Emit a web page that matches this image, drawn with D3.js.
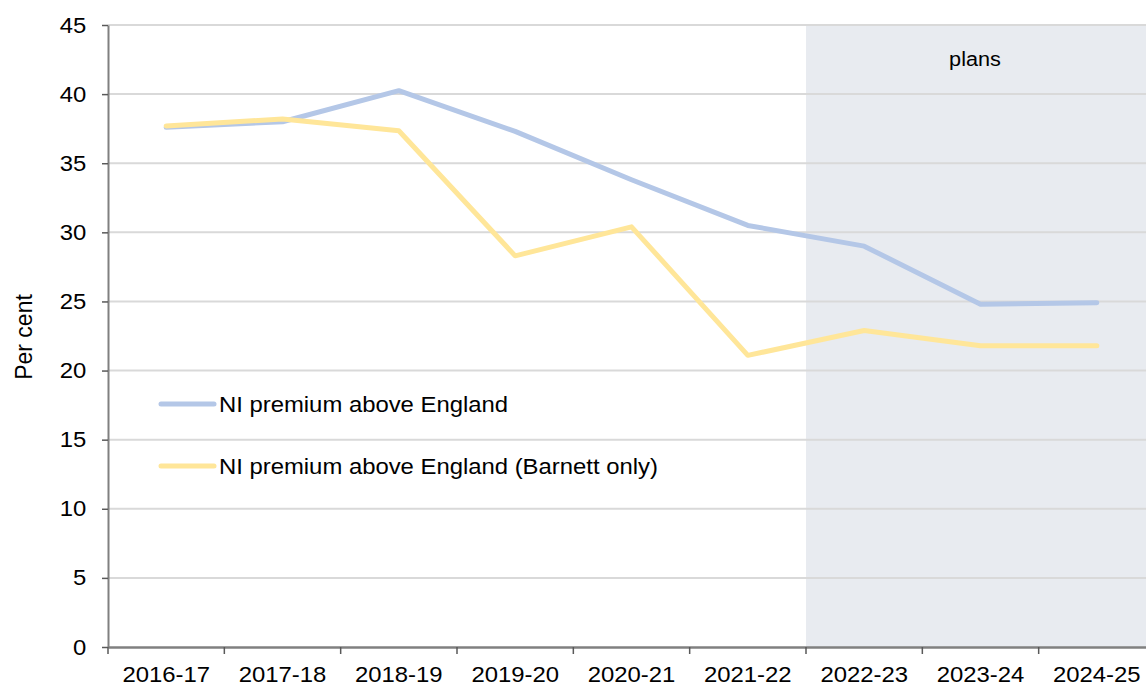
<!DOCTYPE html>
<html>
<head>
<meta charset="utf-8">
<script src="https://cdn.jsdelivr.net/npm/d3@7"></script>
<style>
  html, body { margin: 0; padding: 0; background: #fff; overflow: hidden; }
  svg { display: block; font-family: "Liberation Sans", Arial, sans-serif; }
</style>
</head>
<body>
<svg id="chart" width="1146" height="686"></svg>
<script>
// Financial years on the category axis
const years = ["2016-17", "2017-18", "2018-19", "2019-20", "2020-21",
               "2021-22", "2022-23", "2023-24", "2024-25"];

// Northern Ireland spending premium over England, per cent
const premiumTotal   = [37.6, 38.0, 40.25, 37.3, 33.8, 30.5, 29.0, 24.8, 24.9];
const premiumBarnett = [37.7, 38.2, 37.35, 28.3, 30.4, 21.1, 22.9, 21.8, 21.8];

const seriesNames = ["NI premium above England",
                     "NI premium above England (Barnett only)"];
const seriesColors = ["#b4c7e7", "#ffe699"];

const yTicks = [0, 5, 10, 15, 20, 25, 30, 35, 40, 45];
const plansFrom = "2022-23";

const svg = d3.select("#chart");
const plotLeft = 108, plotRight = 1155, plotTop = 25, plotBottom = 647;

const x = d3.scaleBand().domain(years).range([plotLeft, plotRight]).padding(0);
const y = d3.scaleLinear().domain([0, 45]).range([plotBottom, plotTop]);
const cx = d => x(d) + x.bandwidth() / 2;

const fontSize = 22;
const textScale = 1.085;

// Shaded "plans" period
svg.append("rect")
  .attr("x", x(plansFrom))
  .attr("y", y(45))
  .attr("width", plotRight - x(plansFrom))
  .attr("height", y(0) - y(45))
  .attr("fill", "#e8ebf0");

// Horizontal gridlines
svg.append("g")
  .selectAll("line")
  .data(yTicks.filter(v => v > 0))
  .join("line")
  .attr("x1", plotLeft).attr("x2", plotRight)
  .attr("y1", d => y(d)).attr("y2", d => y(d))
  .attr("stroke", "#d9d9d9")
  .attr("stroke-width", 2);

svg.append("text")
  .attr("transform", `translate(975,66) scale(${textScale},1)`)
  .attr("text-anchor", "middle")
  .attr("font-size", 20)
  .attr("fill", "#000")
  .text("plans");

// Y axis
const yAxis = svg.append("g")
  .attr("transform", `translate(${plotLeft},0)`)
  .call(d3.axisLeft(y).tickValues(yTicks).tickSize(6).tickPadding(14).tickSizeOuter(0));
yAxis.select(".domain").attr("stroke", "#808080").attr("stroke-width", 2);
yAxis.selectAll(".tick line").attr("stroke", "#595959").attr("stroke-width", 1.5);
yAxis.selectAll(".tick text")
  .attr("font-size", fontSize)
  .attr("font-family", "Liberation Sans, Arial, sans-serif")
  .attr("fill", "#000")
  .attr("transform", `scale(${textScale},1)`);

// X axis: labels centred in each band, ticks on band edges
const xAxis = svg.append("g")
  .attr("transform", `translate(0,${plotBottom})`)
  .call(d3.axisBottom(x).tickSize(0).tickPadding(19).tickSizeOuter(0));
xAxis.select(".domain").attr("stroke", "#808080").attr("stroke-width", 2.5);
xAxis.selectAll(".tick text")
  .attr("font-size", fontSize)
  .attr("font-family", "Liberation Sans, Arial, sans-serif")
  .attr("fill", "#000")
  .attr("transform", `scale(${textScale},1)`)
  .attr("x", 0);
xAxis.selectAll(".edge")
  .data(years.map(d => x(d)).concat([plotRight]))
  .join("line")
  .attr("class", "edge")
  .attr("x1", d => d).attr("x2", d => d)
  .attr("y1", 0).attr("y2", 7)
  .attr("stroke", "#595959")
  .attr("stroke-width", 1.5);

// Y axis title
svg.append("text")
  .attr("transform", `translate(32,337) rotate(-90)`)
  .attr("text-anchor", "middle")
  .attr("font-size", 23)
  .attr("fill", "#000")
  .text("Per cent");

// Series lines
const line = d3.line()
  .x((d, i) => cx(years[i]))
  .y(d => y(d));

[premiumTotal, premiumBarnett].forEach((vals, k) => {
  svg.append("path")
    .datum(vals)
    .attr("d", line)
    .attr("fill", "none")
    .attr("stroke", seriesColors[k])
    .attr("stroke-width", 5)
    .attr("stroke-linejoin", "round")
    .attr("stroke-linecap", "round");
});

// Legend
const legend = svg.append("g");
seriesNames.forEach((name, k) => {
  const ly = 404 + k * 62;
  legend.append("line")
    .attr("x1", 161).attr("x2", 214)
    .attr("y1", ly).attr("y2", ly)
    .attr("stroke", seriesColors[k])
    .attr("stroke-width", 5)
    .attr("stroke-linecap", "round");
  legend.append("text")
    .attr("transform", `translate(219,${ly + 7.5}) scale(${textScale},1)`)
    .attr("font-size", fontSize)
    .attr("fill", "#000")
    .text(name);
});
</script>
</body>
</html>
